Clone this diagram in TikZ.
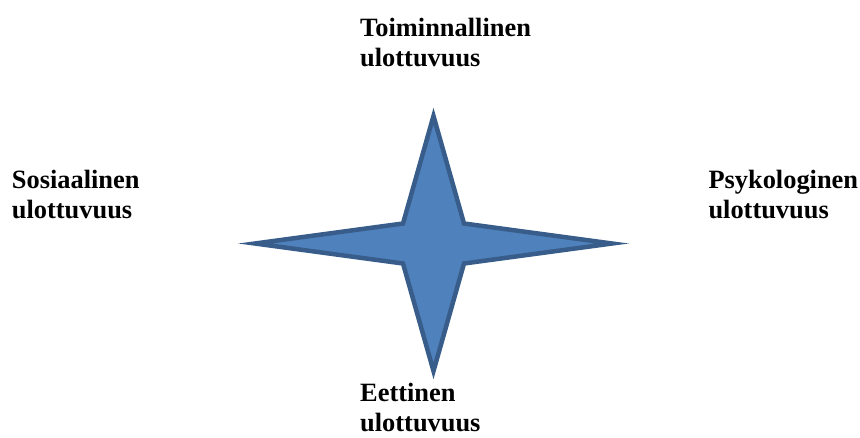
\documentclass[tikz,border=0pt]{standalone}
\usepackage{fontspec}
\setmainfont{Liberation Serif}
\definecolor{starfill}{HTML}{4F81BD}
\definecolor{starline}{HTML}{385D8A}
\begin{document}
\begin{tikzpicture}[x=1pt,y=-1pt,
  lbl/.style={align=left,inner sep=0pt,anchor=base west,
    font={\fontsize{26.4}{30}\selectfont\bfseries}},
  starshape/.style={fill=starfill,draw=starline,line width=4.5pt,line join=miter,miter limit=20}]
\useasboundingbox (0,0) rectangle (860,437);
\draw[starshape] (433.5,116) -- (464,223.5) -- (612,243.5) -- (464,263.5)
  -- (433.5,371) -- (403,263.5) -- (255,243.5) -- (403,223.5) -- cycle;
\node[lbl] (top) at (360,66.7) {Toiminnallinen\\ulottuvuus};
\node[lbl] (left) at (11.7,218.3) {Sosiaalinen\\ulottuvuus};
\node[lbl] (right) at (708.3,218.3) {Psykologinen\\ulottuvuus};
\node[lbl] (bottom) at (360,431) {Eettinen\\ulottuvuus};
\end{tikzpicture}
\end{document}
